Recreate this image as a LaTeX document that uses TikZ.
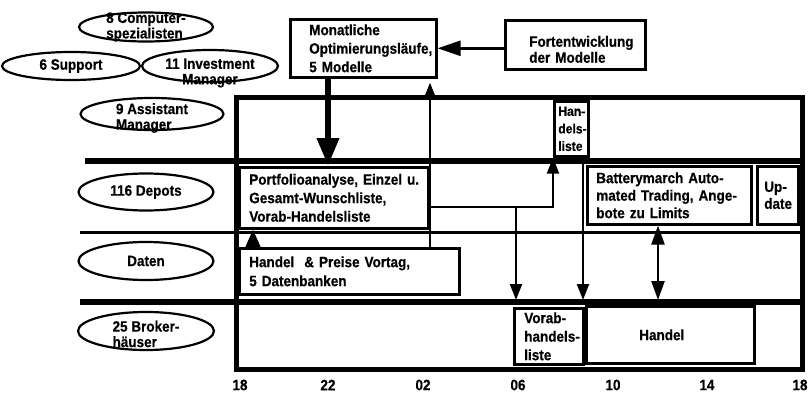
\documentclass[tikz,border=0pt]{standalone}
\usepackage{fontspec}
\setmainfont{Liberation Sans}[FakeStretch=0.9,BoldFeatures={FakeBold=0.5}]
\usetikzlibrary{arrows.meta,calc,shapes.geometric}
\hyphenpenalty=10000
\exhyphenpenalty=10000
\setlength\parindent{0pt}
\newcommand\ind[1]{\hspace*{#1pt}}
\begin{document}
\begin{tikzpicture}[x=1pt,y=-1pt,
  every node/.style={font=\bfseries\fontsize{15}{18.5}\selectfont},
  box/.style={draw, line width=2.6pt, inner xsep=0pt, inner ysep=0pt, align=left, anchor=north west},
  oval/.style={draw, ellipse, line width=2.2pt, inner sep=0pt},
  olbl/.style={font=\bfseries\fontsize{15}{15.5}\selectfont, align=left, inner sep=0pt},
  olblc/.style={font=\bfseries\fontsize{15}{15.5}\selectfont, align=center, inner sep=0pt},
  tick/.style={inner sep=0pt},
  arr/.style={line width=2.2pt, -{Triangle[length=16pt,width=12pt]}},
  bigarr/.style={line width=6.5pt, -{Triangle[length=28pt,width=21pt]}},
  harr/.style={line width=2.4pt, -{Triangle[length=23pt,width=15pt]}},
  garr/.style={line width=3pt, -{Triangle[length=18pt,width=15pt]}},
  dblarr/.style={line width=2.4pt, {Triangle[length=19pt,width=13pt]}-{Triangle[length=19pt,width=13pt]}},
  sepline/.style={line width=#1}
]
\useasboundingbox (0,0) rectangle (812,394);

% frame
\node[draw, line width=4.5pt, minimum width=566pt, minimum height=272pt, inner sep=0pt, anchor=north west] (frame) at (234,95) {};

% separators
\draw[sepline=5.5pt] (85,161) -- (805,161);
\draw[sepline=3pt] (80,232) -- (805,232);
\draw[sepline=6.5pt] (80,302) -- (805,302);

% ellipses
\node[oval, minimum width=134pt, minimum height=29pt, label={[olbl]center:{8 Computer-\\spezialisten}}] (e8) at (146,27) {};
\node[oval, minimum width=138pt, minimum height=28pt, label={[olbl]center:{6 Support}}] (e6) at (71,66) {};
\node[oval, minimum width=136pt, minimum height=32pt, label={[olblc, yshift=-7pt]center:{11 Investment\\Manager}}] (e11) at (210,66) {};
\node[oval, minimum width=143pt, minimum height=32pt, label={[olbl, yshift=-4pt]center:{9 Assistant\\Manager}}] (e9) at (152,114) {};
\node[oval, minimum width=135pt, minimum height=37pt, label={[olbl]center:{116 Depots}}] (e116) at (146,192) {};
\node[oval, minimum width=135pt, minimum height=38pt, label={[olbl]center:{Daten}}] (edat) at (146,261) {};
\node[oval, minimum width=136pt, minimum height=38pt, label={[olbl, yshift=-3pt]center:{25 Broker-\\häuser}}] (e25) at (146,331) {};

% boxes
\node[box, text width=146pt, minimum height=58pt] (mon) at (289,18)
  {\ind{19}Monatliche\\\ind{19}Optimierungsläufe,\\\ind{19}5 Modelle};
\node[box, text width=140pt, minimum height=49pt, font=\bfseries\fontsize{15}{16}\selectfont] (fort) at (504,19)
  {\rule{0pt}{20pt}\ind{24}Fortentwicklung\\\ind{24}der Modelle};
\node[box, text width=189pt, minimum height=61pt] (port) at (238,166)
  {\ind{10}Portfolioanalyse, Einzel u.\\\ind{10}Gesamt-Wunschliste,\\\ind{10}Vorab-Handelsliste};
\node[box, text width=220pt, minimum height=46pt, font=\bfseries\fontsize{15}{19}\selectfont] (hp) at (238,247)
  {\ind{10}Handel~~\& Preise Vortag,\\\ind{10}5 Datenbanken};
\node[box, text width=34pt, minimum height=55pt, font=\bfseries\fontsize{13.5}{17.5}\selectfont] (hl) at (553,100)
  {\ind{4}Han-\\\ind{4}dels-\\\ind{4}liste};
\node[box, text width=164pt, minimum height=58pt, font=\bfseries\fontsize{15}{17.5}\selectfont] (bm) at (586,165)
  {\ind{9}Batterymarch Auto-\\\ind{9}mated Trading, Ange-\\\ind{9}bote zu Limits};
\node[box, text width=41pt, minimum height=58pt, font=\bfseries\fontsize{15}{17}\selectfont] (upd) at (756,165)
  {\ind{7}Up-\\\ind{7}date};
\node[box, text width=69pt, minimum height=56pt] (vhl) at (513,307)
  {\ind{10}Vorab-\\\ind{10}handels-\\\ind{10}liste};
\node[box, text width=168pt, minimum height=57pt] (han) at (585,305)
  {\ind{53}Handel};

% connectors
\coordinate (a1) at ($(mon.south west)+(39,0)$);
\draw[bigarr] (a1) -- (a1 |- port.north);

\coordinate (b1) at ($(hp.north west)+(192,0)$);
\draw[arr, shorten >=4pt] (b1) -- (b1 |- mon.south);

\draw[harr] (fort.west |- mon.east) -- (mon.east);

\coordinate (c1) at (430,207);
\draw[arr] (c1) -| (hl.south west);

\coordinate (d1) at (516,207);
\draw[arr, shorten >=7pt] (d1) -- (d1 |- vhl.north);

\coordinate (e1) at (583,161);
\draw[arr, shorten >=5pt] (e1) -- (e1 |- han.north);

\coordinate (f1) at ($(bm.south west)+(72,0)$);
\draw[dblarr, shorten >=5pt] (f1) -- (f1 |- han.north);

\coordinate (g1) at ($(hp.north west)+(15,0)$);
\draw[garr] (g1) -- (g1 |- port.south);

% axis labels
\node[tick] (t1) at (240,385) {18};
\node[tick] (t2) at (328,385) {22};
\node[tick] (t3) at (423,385) {02};
\node[tick] (t4) at (518,385) {06};
\node[tick] (t5) at (613,385) {10};
\node[tick] (t6) at (707,385) {14};
\node[tick] (t7) at (800,385) {18};
\end{tikzpicture}
\end{document}
